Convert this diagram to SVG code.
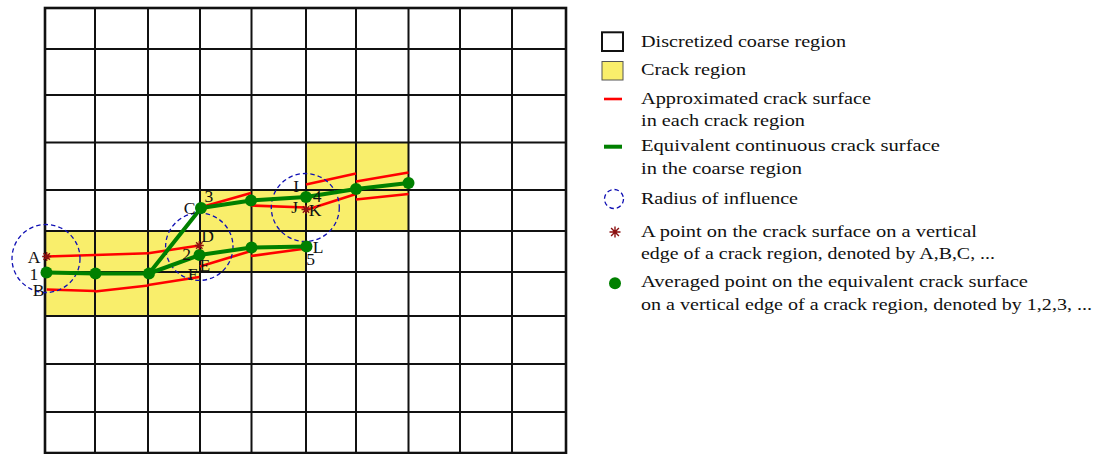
<svg xmlns="http://www.w3.org/2000/svg" width="1108" height="454" viewBox="0 0 1108 454">
<style>
.crack{fill:#f9ee6b;stroke:none}
.grid{stroke:#111;stroke-width:2;fill:none}
.border{stroke:#111;stroke-width:2.6;fill:none}
.red{stroke:#ff0000;stroke-width:2.6;fill:none;stroke-linecap:butt}
.green{stroke:#008000;stroke-width:4;fill:none;stroke-linejoin:round}
.dot{fill:#008000}
.roi{stroke:#1010b4;stroke-width:1.3;fill:none;stroke-dasharray:4.5 3}
.star{stroke:#8b1010;stroke-width:1.4;fill:none}
text{font-family:"Liberation Serif","Times New Roman",serif;font-size:17.5px;fill:#111}
</style>
<defs>
<g id="ast"><path class="star" d="M0,-4.5V4.5M-4.5,0H4.5M-3.2,-3.2L3.2,3.2M-3.2,3.2L3.2,-3.2"/></g>
</defs>
<rect width="1108" height="454" fill="#fff"/>
<g id="crack-regions">
<rect class="crack" x="45" y="231" width="155" height="85"/>
<rect class="crack" x="200" y="190" width="106" height="82"/>
<rect class="crack" x="306" y="142.5" width="102.5" height="88.5"/>
</g>
<g id="grid">
<path class="grid" d="M95,8V453M148,8V453M200,8V453M251.5,8V453M306,8V453M356,8V453M408.5,8V453M460,8V453M512,8V453"/>
<path class="grid" d="M45,49H566M45,95H566M45,142.5H566M45,190H566M45,231H566M45,272H566M45,316H566M45,364H566M45,412H566"/>
<rect class="border" x="45" y="8" width="521" height="445"/>
</g>
<g id="red-surfaces">
<polyline class="red" points="46.7,256.5 95,255 148.3,253.3"/>
<line class="red" x1="148.3" y1="253.3" x2="199.3" y2="245.5"/>
<line class="red" x1="46.7" y1="289.5" x2="95" y2="291"/>
<line class="red" x1="95" y1="291.5" x2="148.3" y2="285.5"/>
<line class="red" x1="148.3" y1="285" x2="199.3" y2="277"/>
<line class="red" x1="200" y1="207.5" x2="251" y2="193"/>
<line class="red" x1="251" y1="205.5" x2="306" y2="207.5"/>
<line class="red" x1="200" y1="266.5" x2="251" y2="251"/>
<line class="red" x1="251" y1="256" x2="306" y2="248.5"/>
<line class="red" x1="306" y1="184.5" x2="356" y2="173.5"/>
<line class="red" x1="356" y1="181.5" x2="408.5" y2="172.5"/>
<line class="red" x1="306" y1="210" x2="356" y2="194"/>
<line class="red" x1="356" y1="199.5" x2="408.5" y2="194"/>
</g>
<g id="influence-circles">
<circle class="roi" cx="46" cy="258.5" r="34"/>
<circle class="roi" cx="199.3" cy="246.7" r="33.7"/>
<circle class="roi" cx="305.3" cy="207.5" r="34"/>
</g>
<g id="connectors">
<polyline class="green" points="149,273.5 201,208 251,200.5 306,197 356,189 408.5,183"/>
<polyline class="green" points="46.5,272.5 95.5,273.5 149,273.5 199.5,255 251.5,247.5 306.5,246.5"/>
</g>
<g id="points">
<circle class="dot" cx="46.5" cy="272.5" r="6"/>
<circle class="dot" cx="95.5" cy="273.5" r="6"/>
<circle class="dot" cx="149" cy="273.5" r="6"/>
<circle class="dot" cx="199.5" cy="255" r="6"/>
<circle class="dot" cx="251.5" cy="247.5" r="6"/>
<circle class="dot" cx="306.5" cy="246.5" r="6"/>
<circle class="dot" cx="201" cy="208" r="6"/>
<circle class="dot" cx="251" cy="200.5" r="6"/>
<circle class="dot" cx="306" cy="197" r="6"/>
<circle class="dot" cx="356" cy="189" r="6"/>
<circle class="dot" cx="408.5" cy="183" r="6"/>
<use href="#ast" x="46.7" y="256.5"/>
<use href="#ast" x="199.3" y="245.5"/>
<use href="#ast" x="306" y="209.5"/>
</g>
<g id="labels">
<text x="27.8" y="263.3">A</text>
<text x="29.5" y="280">1</text>
<text x="32.8" y="296">B</text>
<text x="183.8" y="214">C</text>
<text x="204.5" y="201.7">3</text>
<text x="201.2" y="241.7">D</text>
<text x="182.2" y="260">2</text>
<text x="199.5" y="271">E</text>
<text x="187.8" y="280">F</text>
<text x="293.3" y="191.7">I</text>
<text x="291.2" y="213">J</text>
<text x="312.8" y="201.7">4</text>
<text x="308.8" y="216">K</text>
<text x="312.8" y="253">L</text>
<text x="306.2" y="265">5</text>
</g>
<g id="legend">
<rect x="602" y="32.3" width="21" height="18.7" fill="#fff" stroke="#111" stroke-width="2"/>
<text x="641" y="46.7" textLength="205" lengthAdjust="spacingAndGlyphs">Discretized coarse region</text>
<rect x="602" y="61.5" width="21" height="18.5" fill="#f9ee6b" stroke="#555" stroke-width="1"/>
<text x="641" y="75" textLength="105" lengthAdjust="spacingAndGlyphs">Crack region</text>
<line class="red" x1="604" y1="99" x2="622" y2="99"/>
<text x="641" y="104" textLength="230" lengthAdjust="spacingAndGlyphs">Approximated crack surface</text>
<text x="641" y="126" textLength="164" lengthAdjust="spacingAndGlyphs">in each crack region</text>
<line class="green" x1="604" y1="146.7" x2="622" y2="146.7"/>
<text x="641" y="151" textLength="299" lengthAdjust="spacingAndGlyphs">Equivalent continuous crack surface</text>
<text x="641" y="174" textLength="161" lengthAdjust="spacingAndGlyphs">in the coarse region</text>
<circle class="roi" cx="614" cy="199" r="9.5" stroke-dasharray="3.5 2.5"/>
<text x="641" y="204" textLength="157" lengthAdjust="spacingAndGlyphs">Radius of influence</text>
<path class="star" d="M615,226.5V237.5M609.5,232H620.5M611.1,228.1L618.9,235.9M611.1,235.9L618.9,228.1" stroke-width="1.8"/>
<text x="641" y="237.3" textLength="336" lengthAdjust="spacingAndGlyphs">A point on the crack surface on a vertical</text>
<text x="641" y="259.3" textLength="354" lengthAdjust="spacingAndGlyphs">edge of a crack region, denoted by A,B,C, ...</text>
<circle class="dot" cx="615" cy="283.3" r="6"/>
<text x="641" y="286.7" textLength="387" lengthAdjust="spacingAndGlyphs">Averaged point on the equivalent crack surface</text>
<text x="641" y="310" textLength="451" lengthAdjust="spacingAndGlyphs">on a vertical edge of a crack region, denoted by 1,2,3, ...</text>
</g>
</svg>
